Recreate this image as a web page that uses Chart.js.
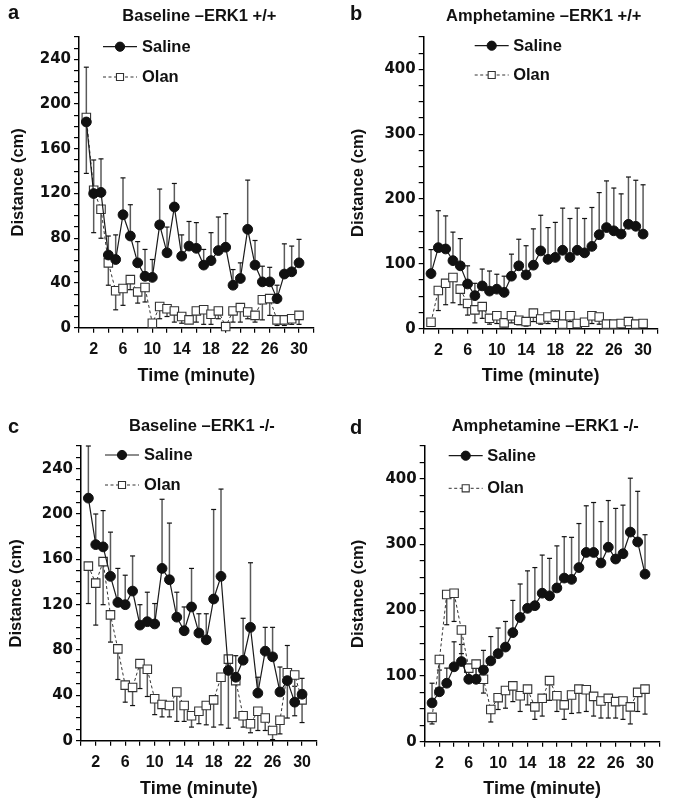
<!DOCTYPE html>
<html><head><meta charset="utf-8">
<script src="https://cdn.jsdelivr.net/npm/chart.js@4.4.1/dist/chart.umd.min.js"></script>
<style>
html,body{margin:0;padding:0;background:#fff;}
#wrap{position:relative;width:674px;height:805px;overflow:hidden;background:#fff;}
canvas{position:absolute;}
</style></head><body><div id="wrap">
<canvas id="ca" width="337" height="392" style="left:0px;top:0px"></canvas>
<canvas id="cb" width="337" height="392" style="left:337px;top:0px"></canvas>
<canvas id="cc" width="337" height="413" style="left:0px;top:392px"></canvas>
<canvas id="cd" width="337" height="413" style="left:337px;top:392px"></canvas>
</div>
<script>
// ---------- data ----------
const minutes = [1,2,3,4,5,6,7,8,9,10,11,12,13,14,15,16,17,18,19,20,21,22,23,24,25,26,27,28,29,30];
const xTickLabels = [2,6,10,14,18,22,26,30];
const seriesNames = ['Saline','Olan'];
const panelTitles = ['Baseline \u2013ERK1 +/+','Amphetamine \u2013ERK1 +/+','Baseline \u2013ERK1 -/-','Amphetamine \u2013ERK1 -/-'];
const panelLetters = ['a','b','c','d'];

// a: Baseline ERK1 +/+
const salineA    = [184,120,121,65,61,101,82,58,46,45,92,67,108,64,73,71,56,60,69,72,38,44,88,56,41,41,26,48,50,58];
const salineTopA = [233,150,151,82,83,134,110,77,70,61,124,90,129,83,95,94,70,85,99,102,52,58,132,78,55,54,38,75,73,79];
const olanA      = [188,123,106,58,33,35,43,32,36,4,19,17,15,10,7,15,16,12,15,1,15,18,14,11,25,26,7,7,8,11];
const olanBotA   = [138,85,80,38,16,20,34,22,23,4,8,10,5,4,5,5,3,3,8,1,5,5,8,5,7,11,2,2,3,3];

// b: Amphetamine ERK1 +/+
const salineB    = [85,125,123,105,97,69,51,66,58,61,56,81,97,83,98,120,107,110,121,110,121,117,127,145,156,151,146,161,158,146];
const salineTopB = [122,182,174,149,139,97,70,92,89,84,81,115,138,128,154,175,156,164,186,170,186,170,187,210,228,217,208,234,229,222];
const olanB      = [10,59,70,79,61,39,29,34,16,20,9,20,13,11,24,15,18,21,7,20,8,10,20,18,7,7,8,11,7,8];
const olanBotB   = [10,28,37,40,37,21,9,16,7,8,3,9,6,4,11,7,8,11,7,11,8,10,8,7,7,7,8,11,7,8];

// c: Baseline ERK1 -/-
const salineC    = [214,173,171,145,122,120,132,102,105,103,152,142,109,97,118,95,89,125,145,62,56,71,100,42,79,74,43,53,34,41];
const salineTopC = [260,200,203,184,152,146,163,120,131,121,213,192,131,118,152,112,112,204,222,75,75,108,157,56,100,100,65,84,48,55];
const olanC      = [154,139,158,111,81,49,47,68,63,37,32,31,43,31,22,26,31,36,56,72,53,22,15,26,20,9,18,60,58,36];
const olanBotC   = [121,102,120,87,54,34,31,46,39,23,21,21,17,17,12,15,14,12,14,11,20,12,7,9,9,1,6,20,22,16];

// d: Amphetamine ERK1 -/-
const salineD    = [59,76,89,114,122,95,95,109,123,134,144,166,189,203,207,226,222,234,249,247,265,288,288,272,296,278,286,319,304,255];
const salineTopD = [89,109,112,152,148,114,118,139,160,173,183,215,240,260,265,284,279,298,312,311,332,359,364,335,367,355,360,401,381,315];
const olanD      = [37,125,224,226,170,112,118,95,49,67,78,85,70,80,53,66,93,70,56,71,80,79,69,62,66,61,62,53,75,80];
const olanBotD   = [27,81,178,183,134,94,100,74,30,49,51,61,46,56,34,39,63,46,34,43,44,46,39,36,36,36,34,27,46,42];

// ---------- plugins ----------
const FONT = "'Liberation Sans', Arial, Helvetica, sans-serif";

const errorBars = {
  id: 'errorBars',
  beforeDatasetsDraw(chart) {
    const ctx = chart.ctx;
    const xs = chart.scales.x, ys = chart.scales.y;
    chart.data.datasets.forEach((ds) => {
      if (!ds.errBound) return;
      ds.data.forEach((p, i) => {
        const b = ds.errBound[i];
        if (b === undefined || b === p.y) return;
        const x = xs.getPixelForValue(p.x);
        const y0 = ys.getPixelForValue(p.y);
        const y1 = ys.getPixelForValue(b);
        ctx.save();
        ctx.strokeStyle = '#5a5a5a';
        ctx.lineWidth = 1.5;
        ctx.beginPath(); ctx.moveTo(x, y0); ctx.lineTo(x, y1); ctx.stroke();
        ctx.strokeStyle = '#111';
        ctx.lineWidth = 1.2;
        ctx.beginPath(); ctx.moveTo(x - 2.5, y1); ctx.lineTo(x + 2.5, y1); ctx.stroke();
        ctx.restore();
      });
    });
  }
};

const panelText = {
  id: 'panelText',
  afterDraw(chart, args, o) {
    const ctx = chart.ctx, ca = chart.chartArea;
    ctx.save();
    ctx.fillStyle = '#111';
    ctx.textBaseline = 'alphabetic';
    ctx.textAlign = 'left';
    ctx.font = 'bold 20px ' + FONT;
    ctx.fillText(o.letter, o.letterX, o.letterBase);
    ctx.textAlign = 'center';
    ctx.font = 'bold 16.5px ' + FONT;
    ctx.fillText(o.title, (ca.left + ca.right) / 2 + 3, o.titleBase);
    // legend
    chart.data.datasets.forEach((ds, i) => {
      const y = ca.top + o.legendRows[i];
      const x0 = ca.left + o.legendDx;
      ctx.strokeStyle = ds.borderColor;
      ctx.lineWidth = ds.borderWidth;
      ctx.setLineDash(ds.borderDash || []);
      ctx.beginPath(); ctx.moveTo(x0, y); ctx.lineTo(x0 + 34, y); ctx.stroke();
      ctx.setLineDash([]);
      ctx.fillStyle = ds.pointBackgroundColor;
      ctx.strokeStyle = ds.pointBorderColor;
      ctx.lineWidth = ds.pointBorderWidth;
      Chart.helpers.drawPoint(ctx, {pointStyle: ds.pointStyle, rotation: 0, radius: ds.legendRadius, borderWidth: ds.pointBorderWidth}, x0 + 17, y);
      ctx.fillStyle = '#111';
      ctx.textAlign = 'left';
      ctx.textBaseline = 'middle';
      ctx.font = 'bold 16.5px ' + FONT;
      ctx.fillText(ds.label, x0 + o.legendTextDx, y + 0.5);
    });
    ctx.restore();
  }
};

function build(c) {
  const yLabelStep = c.yLabelStep;
  return new Chart(document.getElementById(c.id), {
    type: 'line',
    data: {
      datasets: [
        {
          label: seriesNames[0],
          data: c.saline.map((v, i) => ({x: minutes[i], y: v})),
          errBound: c.salineTop,
          borderColor: '#1a1a1a', borderWidth: 1.2,
          pointStyle: 'circle', pointRadius: 4.9, pointHoverRadius: 4.9,
          pointBackgroundColor: '#111', pointBorderColor: '#111', pointBorderWidth: 1,
          legendRadius: 4.6,
          tension: 0, clip: false
        },
        {
          label: seriesNames[1],
          data: c.olan.map((v, i) => ({x: minutes[i], y: v})),
          errBound: c.olanBot,
          borderColor: '#333', borderWidth: 1, borderDash: [3, 2.5],
          pointStyle: 'rect', pointRadius: 6, pointHoverRadius: 6,
          pointBackgroundColor: '#fff', pointBorderColor: '#333', pointBorderWidth: 1.1,
          legendRadius: 5,
          tension: 0, clip: false
        }
      ]
    },
    options: {
      responsive: false, animation: false, devicePixelRatio: 1,
      events: [],
      layout: {padding: {left: 0, top: c.padTop, right: c.padRight, bottom: 0}},
      plugins: {
        legend: {display: false}, tooltip: {enabled: false},
        panelText: {letter: c.letter, letterX: c.letterX, letterBase: c.letterBase, title: c.title, titleBase: c.titleBase,
                    legendDx: c.legendDx, legendTextDx: c.legendTextDx, legendRows: c.legendRows}
      },
      scales: {
        x: {
          type: 'linear', min: 0, max: 32,
          afterFit(s) { s.height = c.xH; },
          border: {display: true, color: '#000', width: 1.5},
          grid: {drawOnChartArea: false, drawTicks: true, tickLength: 5, color: '#000', lineWidth: 1.2},
          ticks: {stepSize: 2, autoSkip: false, maxRotation: 0, padding: 7, color: '#111',
                  font: {family: FONT, size: 16, weight: 'bold'},
                  callback: (v) => xTickLabels.includes(v) ? String(v) : ''},
          title: {display: true, text: 'Time (minute)', color: '#111',
                  font: {family: FONT, size: 18, weight: 'bold'}, padding: {top: 0, bottom: c.xTitlePad}}
        },
        y: {
          type: 'linear', min: 0, max: c.yMax,
          afterFit(s) { s.width = c.yW; },
          border: {display: true, color: '#000', width: 1.5},
          grid: {drawOnChartArea: false, drawTicks: true, tickLength: 5, color: '#000', lineWidth: 1.2},
          ticks: {stepSize: c.yMinorStep, autoSkip: false, padding: 3, color: '#111',
                  font: {family: "'DejaVu Sans', sans-serif", size: 15, weight: 'bold'},
                  callback: (v) => (v % yLabelStep === 0) ? String(v) : ''},
          title: {display: true, text: 'Distance (cm)', color: '#111',
                  font: {family: FONT, size: 16.5, weight: 'bold'}, padding: {top: c.yTitlePad, bottom: 0}}
        }
      }
    },
    plugins: [errorBars, panelText]
  });
}

build({id: 'ca', saline: salineA, salineTop: salineTopA, olan: olanA, olanBot: olanBotA,
  yMax: 260, yMinorStep: 10, yLabelStep: 40, padTop: 37, padRight: 23.3, yW: 79, xH: 64.3,
  xTitlePad: 5.5, yTitlePad: 8.5, letter: panelLetters[0], letterX: 8, letterBase: 19, title: panelTitles[0], titleBase: 20.5,
  legendDx: 24, legendTextDx: 39, legendRows: [9.7, 40]});
build({id: 'cb', saline: salineB, salineTop: salineTopB, olan: olanB, olanBot: olanBotB,
  yMax: 450, yMinorStep: 25, yLabelStep: 100, padTop: 37, padRight: 16.3, yW: 86.7, xH: 63.3,
  xTitlePad: 5.5, yTitlePad: 11.5, letter: panelLetters[1], letterX: 13, letterBase: 20, title: panelTitles[1], titleBase: 20.5,
  legendDx: 51, legendTextDx: 38.5, legendRows: [8.7, 38]});
build({id: 'cc', saline: salineC, salineTop: salineTopC, olan: olanC, olanBot: olanBotC,
  yMax: 260, yMinorStep: 10, yLabelStep: 40, padTop: 54, padRight: 20.2, yW: 81, xH: 64.3,
  xTitlePad: 5.3, yTitlePad: 7, letter: panelLetters[2], letterX: 8, letterBase: 40.7, title: panelTitles[2], titleBase: 38.7,
  legendDx: 24, legendTextDx: 39, legendRows: [9, 39]});
build({id: 'cd', saline: salineD, salineTop: salineTopD, olan: olanD, olanBot: olanBotD,
  yMax: 450, yMinorStep: 25, yLabelStep: 100, padTop: 54, padRight: 14.3, yW: 87.7, xH: 63.3,
  xTitlePad: 5.3, yTitlePad: 11.5, letter: panelLetters[3], letterX: 13, letterBase: 42, title: panelTitles[3], titleBase: 38.7,
  legendDx: 24, legendTextDx: 38.5, legendRows: [9.7, 42.3]});
</script>
</body></html>
